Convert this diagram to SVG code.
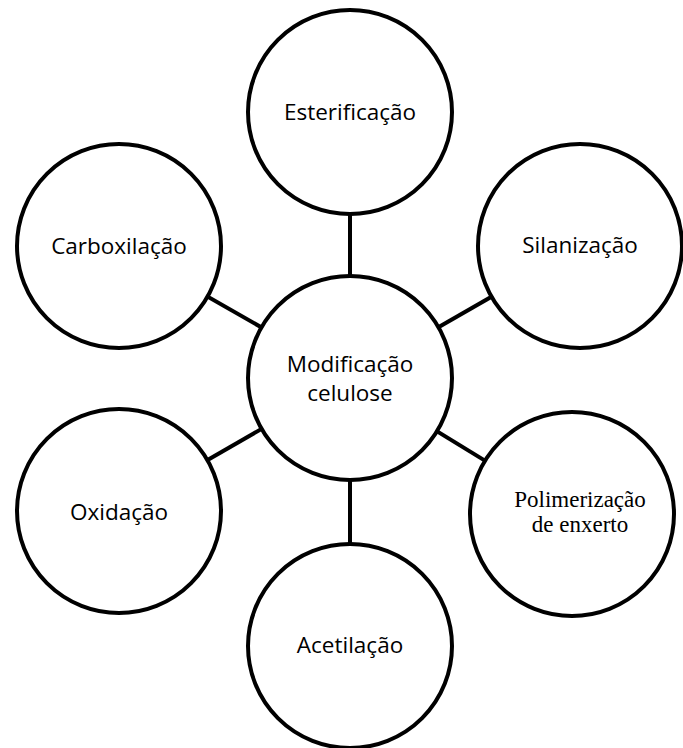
<svg xmlns="http://www.w3.org/2000/svg" width="683" height="748" viewBox="0 0 683 748">
<style>
.node circle{fill:#fff;stroke:#000;stroke-width:4}
.lbl{font-family:"Open Sans","Liberation Sans",sans-serif;font-size:22.5px;fill:#000;text-anchor:middle}
.ser{font-family:"Liberation Serif","Times New Roman",serif;font-size:23px;fill:#000;text-anchor:middle}
.conn line{stroke:#000;stroke-width:4}
</style>
<rect width="683" height="748" fill="#fff"/>
<g id="connectors" class="conn">
<line x1="350" y1="378" x2="350" y2="112"/>
<line x1="350" y1="378" x2="119" y2="246"/>
<line x1="350" y1="378" x2="580" y2="246"/>
<line x1="350" y1="378" x2="119" y2="511"/>
<line x1="350" y1="378" x2="572" y2="514"/>
<line x1="350" y1="378" x2="350" y2="646"/>
</g>
<g id="esterificacao" class="node"><circle cx="350" cy="112" r="102"/><text class="lbl" x="350" y="120">Esterificação</text></g>
<g id="carboxilacao" class="node"><circle cx="119" cy="246" r="102"/><text class="lbl" x="119" y="254">Carboxilação</text></g>
<g id="silanizacao" class="node"><circle cx="580" cy="246" r="102"/><text class="lbl" x="580" y="253">Silanização</text></g>
<g id="modificacao" class="node"><circle cx="350" cy="378" r="102"/><text class="lbl" x="350" y="372">Modificação</text><text class="lbl" x="350" y="401">celulose</text></g>
<g id="oxidacao" class="node"><circle cx="119" cy="511" r="102"/><text class="lbl" x="119" y="520">Oxidação</text></g>
<g id="polimerizacao" class="node"><circle cx="572" cy="514" r="102"/><text class="ser" x="580" y="507">Polimerização</text><text class="ser" x="580" y="532">de enxerto</text></g>
<g id="acetilacao" class="node"><circle cx="350" cy="646" r="102"/><text class="lbl" x="350" y="653">Acetilação</text></g>
</svg>
